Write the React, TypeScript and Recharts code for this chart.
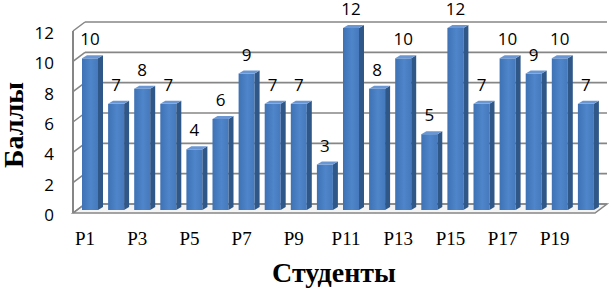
import React from 'react';
import { BarChart, Bar, XAxis, YAxis, CartesianGrid, LabelList, Label } from 'recharts';

const categories = ['P1','P2','P3','P4','P5','P6','P7','P8','P9','P10','P11','P12','P13','P14','P15','P16','P17','P18','P19','P20'];
const scores = [10, 7, 8, 7, 4, 6, 9, 7, 7, 3, 12, 8, 10, 5, 12, 7, 10, 9, 10, 7];
const yTicks = [0, 2, 4, 6, 8, 10, 12];
const xTitle = 'Студенты';
const yTitle = 'Баллы';

const data = categories.map((name, i) => ({ name, value: scores[i] }));

const WALL_DX = 12;
const WALL_BACK = 6;
const WALL_FRONT = 3;
const BAR_DX = 5;
const BAR_DY = 3;
const BAR_SHIFT = 4;
const GRID = '#868686';

const Bar3D = (props: any) => {
  const { x, y, width, height } = props;
  if (height == null || height <= 0) return null;
  const fx = x + BAR_SHIFT;
  const bottom = y + height;
  const top = `M${fx},${y} L${fx + width},${y} L${fx + width + BAR_DX},${y - BAR_DY} L${fx + BAR_DX},${y - BAR_DY} Z`;
  const side = `M${fx + width},${y} L${fx + width + BAR_DX},${y - BAR_DY} L${fx + width + BAR_DX},${bottom - BAR_DY} L${fx + width},${bottom} Z`;
  return (
    <g>
      <rect x={fx} y={y} width={width} height={height} fill="url(#faceGrad)" />
      <path d={side} fill="#2F5788" />
      <path d={top} fill="#6A97D4" />
    </g>
  );
};

const gridLine = (p: any) => {
  const { x1, x2, y1, index } = p;
  const yb = y1 - WALL_BACK;
  const yf = y1 + WALL_FRONT;
  const isFloor = p.y != null && p.height != null ? Math.abs(y1 - (p.y + p.height)) < 1 : index === 0;
  return (
    <g key={`g-${index}-${y1}`}>
      {isFloor && (
        <path
          d={`M${x1},${yf} L${x2},${yf} L${x2 + WALL_DX},${yb} L${x1 + WALL_DX},${yb} Z`}
          fill="#F4F4F4"
          stroke={GRID}
          strokeWidth={1.5}
        />
      )}
      {isFloor && p.y != null && (
        <line x1={x1} y1={p.y + WALL_FRONT} x2={x1} y2={yf} stroke={GRID} strokeWidth={2} />
      )}
      <line x1={x1} y1={yf} x2={x1 + WALL_DX} y2={yb} stroke={GRID} strokeWidth={1.5} />
      <line x1={x1 + WALL_DX} y1={yb} x2={x2 + WALL_DX} y2={yb} stroke={GRID} strokeWidth={1.6} />
    </g>
  );
};

const YTick = (props: any) => {
  const { x, y, payload } = props;
  return (
    <text x={x + 1} y={y + 5} dy="0.36em" textAnchor="end" fontFamily="Open Sans" fontSize={17} fill="#000">
      {payload.value}
    </text>
  );
};

const XTick = (props: any) => {
  const { x, y, payload } = props;
  return (
    <text x={x - 1} y={y + 35} textAnchor="middle" fontFamily="Liberation Serif" fontSize={19} fill="#000">
      {payload.value}
    </text>
  );
};

const ValueLabel = (props: any) => {
  const { x, y, width, value } = props;
  return (
    <text x={x + BAR_SHIFT + width / 2} y={y - 13} textAnchor="middle" fontFamily="Open Sans" fontSize={17} fill="#000">
      {value}
    </text>
  );
};

const XTitle = (props: any) => {
  const vb = props.viewBox || {};
  return (
    <text x={vb.x + vb.width / 2} y={282} textAnchor="middle" fontFamily="Liberation Serif" fontWeight="bold" fontSize={28} fill="#000">
      {xTitle}
    </text>
  );
};

const YTitle = (props: any) => {
  const vb = props.viewBox || {};
  const cx = 23;
  const cy = vb.y + vb.height / 2 + 6;
  return (
    <text x={cx} y={cy} transform={`rotate(-90 ${cx} ${cy})`} textAnchor="middle" fontFamily="Liberation Serif" fontWeight="bold" fontSize={28} fill="#000">
      {yTitle}
    </text>
  );
};

export default function App() {
  return (
    <div style={{ position: 'absolute', left: 0, top: 0, width: 613, height: 289, background: '#fff' }}>
      <BarChart width={613} height={289} data={data} margin={{ top: 28, right: 18, bottom: 0, left: 33 }} barSize={16}>
        <defs>
          <linearGradient id="faceGrad" x1="0" y1="0" x2="1" y2="0">
            <stop offset="0%" stopColor="#3E72B5" />
            <stop offset="55%" stopColor="#4F85CA" />
            <stop offset="100%" stopColor="#4679BD" />
          </linearGradient>
        </defs>
        <CartesianGrid vertical={false} horizontal={gridLine} />
        <XAxis dataKey="name" height={79} interval={1} tickLine={false} axisLine={false} tickSize={0} tickMargin={0} tick={<XTick />}>
          <Label content={<XTitle />} />
        </XAxis>
        <YAxis width={40} domain={[0, 12]} ticks={yTicks} interval={0} tickLine={false} axisLine={false} tickSize={0} tickMargin={20} tick={<YTick />}>
          <Label content={<YTitle />} />
        </YAxis>
        <Bar dataKey="value" shape={<Bar3D />} isAnimationActive={false}>
          <LabelList dataKey="value" content={<ValueLabel />} />
        </Bar>
      </BarChart>
    </div>
  );
}
